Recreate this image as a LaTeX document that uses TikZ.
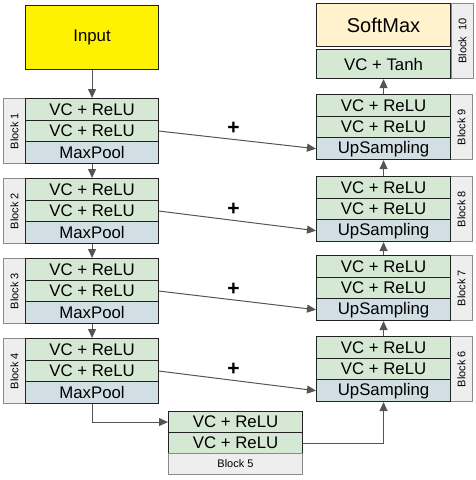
\documentclass[tikz,border=0pt]{standalone}
\usepackage{fontspec}
\setmainfont{Liberation Sans}
\usetikzlibrary{arrows.meta}
\definecolor{vcgreen}{HTML}{D5E8D4}
\definecolor{poolblue}{HTML}{D1DFE5}
\definecolor{lblgray}{HTML}{EEEEEE}
\definecolor{softy}{HTML}{FFF2CC}
\definecolor{edgec}{HTML}{222222}
\definecolor{lblborder}{HTML}{8A8A8A}
\definecolor{arrowc}{HTML}{555555}
\tikzset{
  rowbox/.style={draw=edgec, line width=1.1pt, anchor=north west, inner sep=0pt,
    font=\fontsize{16.8}{17}\selectfont},
  vc/.style={rowbox, fill=vcgreen},
  pool/.style={rowbox, fill=poolblue},
  leftrow/.style={minimum width=133pt, minimum height=21.67pt},
  rightrow/.style={minimum width=134pt, minimum height=21.67pt},
  lbl/.style={draw=lblborder, line width=1pt, fill=lblgray, anchor=north west, inner sep=0pt,
    font=\fontsize{11}{11}\selectfont},
  conn/.style={draw=arrowc, line width=1pt, -{Triangle[length=9pt,width=8pt]}},
  plus/.style={font=\bfseries\fontsize{21}{21}\selectfont, text=black}
}
\begin{document}
\begin{tikzpicture}[x=1pt,y=-1pt]
\useasboundingbox (0,0) rectangle (475,480);
% Input
\node[rowbox, fill=yellow, minimum width=133pt, minimum height=64pt] (in) at (25,5) {Input};
% Left blocks
\foreach \i/\t in {1/98,2/178,3/258,4/338}{
  \node[lbl, minimum width=22pt, minimum height=65pt] (l\i) at (3,\t) {\rotatebox{90}{Block \i}};
  \node[vc, leftrow] (b\i a) at (25,\t) {VC + ReLU};
  \node[vc, leftrow] (b\i b) at (25,\t+21.67) {VC + ReLU};
  \node[pool, leftrow] (b\i c) at (25,\t+43.33) {MaxPool};
}
% Block 5
\node[vc, minimum width=134pt, minimum height=21pt] (b5a) at (168,411) {VC + ReLU};
\node[vc, minimum width=134pt, minimum height=21pt] (b5b) at (168,432) {VC + ReLU};
\node[lbl, minimum width=134pt, minimum height=21pt] (l5) at (168,453) {Block 5};
% Right blocks
\foreach \i/\t in {6/336,7/255,8/176,9/94}{
  \node[lbl, minimum width=22pt, minimum height=65pt] (l\i) at (450,\t) {\rotatebox{90}{Block \i}};
  \node[vc, rightrow] (b\i a) at (316,\t) {VC + ReLU};
  \node[vc, rightrow] (b\i b) at (316,\t+21.67) {VC + ReLU};
  \node[pool, rightrow] (b\i c) at (316,\t+43.33) {UpSampling};
}
% Block 10
\node[rowbox, fill=softy, minimum width=134pt, minimum height=43pt, font=\fontsize{20}{20}\selectfont] (soft) at (316,3) {SoftMax};
\node[vc, minimum width=134pt, minimum height=29pt] (tanh) at (316,49) {VC + Tanh};
\node[lbl, minimum width=22pt, minimum height=75pt] (l10) at (451,3) {\rotatebox{90}{Block\ \ 10}};
% Connectors
\draw[conn] (in.south) -- (b1a.north);
\draw[conn] (b1c.south) -- (b2a.north);
\draw[conn] (b2c.south) -- (b3a.north);
\draw[conn] (b3c.south) -- (b4a.north);
\draw[conn] (b4c.south) |- (b5a.west);
\draw[conn] (b5b.east) -| (b6c.south);
\draw[conn] (b6a.north) -- (b7c.south);
\draw[conn] (b7a.north) -- (b8c.south);
\draw[conn] (b8a.north) -- (b9c.south);
\draw[conn] (b9a.north) -- (tanh.south);
% Skip connections
\draw[conn] (b1b.east) -- node[plus, pos=0.475, yshift=11pt] (p1) {+} (b9c.west);
\draw[conn] (b2b.east) -- node[plus, pos=0.475, yshift=11pt] (p2) {+} (b8c.west);
\draw[conn] (b3b.east) -- node[plus, pos=0.475, yshift=11pt] (p3) {+} (b7c.west);
\draw[conn] (b4b.east) -- node[plus, pos=0.475, yshift=11pt] (p4) {+} (b6c.west);
\end{tikzpicture}
\end{document}
